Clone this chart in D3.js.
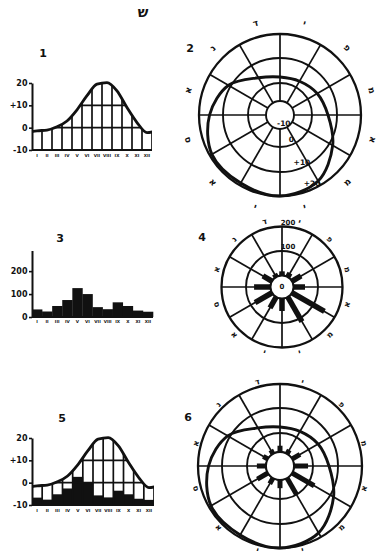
<!DOCTYPE html>
<html>
<head>
<meta charset="utf-8">
<script src="https://cdn.jsdelivr.net/npm/d3@7"></script>
<style>
  body { margin: 0; background: #fff; }
  svg text { font-family: "DejaVu Sans", sans-serif; font-weight: bold; fill: #111; }
</style>
</head>
<body>
<svg id="fig" width="378" height="555"></svg>
<script>
// monthly data
const monthNumerals = ["I", "II", "III", "IV", "V", "VI", "VII", "VIII", "IX", "X", "XI", "XII"];
const monthInitials = ["י", "פ", "מ", "א", "מ", "י", "י", "א", "ס", "א", "נ", "ד"];
const tempMonthly = [-1.4, -1.1, 0.4, 3, 8, 14.3, 19.5, 20.2, 16.5, 9, 2.3, -2.2];
const precipMonthly = [33, 24, 48, 74, 126, 100, 43, 34, 64, 48, 28, 23];
const tempPolar = [2.4, 2.8, 4.4, 6.4, 11.6, 18, 20, 19, 19, 15.6, 11, 4.4];
const precipPolar = [17, 18, 43, 47, 153, 116, 51, 51, 80, 67, 43, 14];

const tempTicks = [-10, 0, 10, 20];
const tempTickLabels = ["-10", "0", "+10", "20"];
const precipTicks = [0, 100, 200];
const precipTickLabels = ["0", "100", "200"];
const polarTempRings = [-10, 0, 10, 20];
const polarTempLabels = ["-10", "0", "+10", "+20"];
const polarPrecipRings = [0, 100, 200];
const polarPrecipLabels = ["0", "100", "200"];
const panelNumbers = ["1", "2", "3", "4", "5", "6"];
const figureLetter = "ש";

const ink = "#111";
const svg = d3.select("#fig");
const defs = svg.append("defs");

svg.append("text").attr("x", 143).attr("y", 17).attr("text-anchor", "middle")
  .attr("font-size", 14).text(figureLetter);

function monthLabels(g, x, yPos) {
  g.selectAll(".ml").data(monthNumerals).enter().append("text")
    .attr("x", (d, i) => x(i + 0.5)).attr("y", yPos)
    .attr("text-anchor", "middle").attr("font-size", 4.2).text(d => d);
}

function styleAxis(ax) {
  ax.select(".domain").attr("stroke", ink).attr("stroke-width", 2);
  ax.selectAll(".tick line").attr("stroke", ink).attr("stroke-width", 1.6);
  ax.selectAll(".tick text").attr("font-size", 8);
}

// linear temperature chart (panels 1 and 5)
function tempPanel(id, x, y, withPrecip) {
  const g = svg.append("g");
  const pts = [{ m: -1, t: tempMonthly[11] }]
    .concat(tempMonthly.map((t, i) => ({ m: i, t })), [{ m: 12, t: tempMonthly[0] }]);
  const area = d3.area().x(d => x(d.m + 0.5)).y0(y(-10)).y1(d => y(d.t)).curve(d3.curveMonotoneX);
  const line = area.lineY1();

  defs.append("clipPath").attr("id", id + "-box").append("rect")
    .attr("x", x(0)).attr("y", y(20) - 15).attr("width", x(12) - x(0)).attr("height", y(-10) - y(20) + 16);
  defs.append("clipPath").attr("id", id + "-area").append("path").attr("d", area(pts));

  const box = g.append("g").attr("clip-path", `url(#${id}-box)`);
  const inner = box.append("g").attr("clip-path", `url(#${id}-area)`);
  inner.append("path").attr("d", area(pts)).attr("fill", "#fff");

  if (withPrecip) {
    inner.selectAll(".pb").data(precipMonthly).enter().append("rect")
      .attr("x", (d, i) => x(i)).attr("width", x(1) - x(0) + 0.3)
      .attr("y", d => y(-10 + d / 10)).attr("height", d => y(-10) - y(-10 + d / 10))
      .attr("fill", ink);
  }
  inner.selectAll(".vl").data(d3.range(13)).enter().append("line")
    .attr("x1", d => x(d)).attr("x2", d => x(d)).attr("y1", y(-10)).attr("y2", y(21))
    .attr("stroke", ink).attr("stroke-width", 1.7);
  inner.selectAll(".hl").data([0, 10]).enter().append("line")
    .attr("x1", x(0)).attr("x2", x(12)).attr("y1", d => y(d)).attr("y2", d => y(d))
    .attr("stroke", ink).attr("stroke-width", 1.7);
  box.append("path").attr("d", line(pts)).attr("fill", "none")
    .attr("stroke", ink).attr("stroke-width", 2.8);

  g.append("line").attr("x1", x(0)).attr("x2", x(12)).attr("y1", y(-10)).attr("y2", y(-10))
    .attr("stroke", ink).attr("stroke-width", 2.2);
  const ax = g.append("g").attr("transform", `translate(${x(0)},0)`)
    .call(d3.axisLeft(y).tickValues(tempTicks).tickFormat((d, i) => tempTickLabels[i])
      .tickSize(3).tickSizeOuter(0).tickPadding(1.5));
  styleAxis(ax);
  monthLabels(g, x, y(-10) + 7);
}

// precipitation histogram (panel 3)
function precipPanel(x, y) {
  const g = svg.append("g");
  g.selectAll(".pb").data(precipMonthly).enter().append("rect")
    .attr("x", (d, i) => x(i)).attr("width", x(1) - x(0) + 0.3)
    .attr("y", d => y(d)).attr("height", d => y(0) - y(d)).attr("fill", ink);
  g.append("line").attr("x1", x(0)).attr("x2", x(12)).attr("y1", y(0)).attr("y2", y(0))
    .attr("stroke", ink).attr("stroke-width", 2.2);
  const ax = g.append("g").attr("transform", `translate(${x(0)},0)`)
    .call(d3.axisLeft(y).tickValues(precipTicks).tickFormat((d, i) => precipTickLabels[i])
      .tickSize(3).tickSizeOuter(0).tickPadding(1.5));
  styleAxis(ax);
  monthLabels(g, x, y(0) + 6);
}

// polar grid with spokes, rings and month letters
function polarGrid(cx, cy, r, rings, labelOffset, labelSize) {
  const g = svg.append("g").attr("transform", `translate(${cx},${cy})`);
  const rIn = r(rings[0]), rOut = r(rings[rings.length - 1]);
  g.selectAll(".sp").data(d3.range(12)).enter().append("line")
    .attr("x1", d => rIn * Math.sin(d * Math.PI / 6)).attr("y1", d => -rIn * Math.cos(d * Math.PI / 6))
    .attr("x2", d => rOut * Math.sin(d * Math.PI / 6)).attr("y2", d => -rOut * Math.cos(d * Math.PI / 6))
    .attr("stroke", ink).attr("stroke-width", 1.7);
  g.selectAll(".rg").data(rings).enter().append("circle")
    .attr("r", d => r(d)).attr("fill", (d, i) => i === 0 ? "#fff" : "none")
    .attr("stroke", ink).attr("stroke-width", (d, i) => i === rings.length - 1 ? 2.3 : 1.9);
  g.selectAll(".mi").data(monthInitials).enter().append("text")
    .attr("font-size", labelSize).attr("text-anchor", "middle").attr("dominant-baseline", "central")
    .attr("transform", (d, i) => {
      const a = i * 30 + 15, rad = a * Math.PI / 180, R = rOut + labelOffset;
      const rot = (a > 90 && a < 270) ? a - 180 : a;
      return `translate(${R * Math.sin(rad)},${-R * Math.cos(rad)}) rotate(${rot})`;
    })
    .text(d => d);
  return g;
}

function polarBars(g, r, values, base, widthPx) {
  g.selectAll(".bar").data(values).enter().append("line")
    .attr("x1", (d, i) => r(base) * Math.sin(i * Math.PI / 6))
    .attr("y1", (d, i) => -r(base) * Math.cos(i * Math.PI / 6))
    .attr("x2", (d, i) => r(d) * Math.sin(i * Math.PI / 6))
    .attr("y2", (d, i) => -r(d) * Math.cos(i * Math.PI / 6))
    .attr("stroke", ink).attr("stroke-width", widthPx);
}

function polarCurve(g, r) {
  const lr = d3.lineRadial().angle((d, i) => i * Math.PI / 6).radius(d => r(d))
    .curve(d3.curveCatmullRomClosed);
  g.append("path").attr("d", lr(tempPolar)).attr("fill", "none")
    .attr("stroke", ink).attr("stroke-width", 2.9);
}

// panel 1
tempPanel("p1", d3.scaleLinear().domain([0, 12]).range([32, 152]),
  d3.scaleLinear().domain([-10, 20]).range([150, 83]), false);
// panel 3
precipPanel(d3.scaleLinear().domain([0, 12]).range([32, 153]),
  d3.scaleLinear().domain([0, 290]).range([317, 250.5]));
// panel 5
tempPanel("p5", d3.scaleLinear().domain([0, 12]).range([32, 154]),
  d3.scaleLinear().domain([-10, 20]).range([505, 438]), true);

// panel 2
const r2 = d3.scaleLinear().domain(polarTempRings).range([14, 32, 57, 81]);
const g2 = polarGrid(280, 115, r2, polarTempRings, 14, 9);
polarCurve(g2, r2);
g2.selectAll(".rl").data(polarTempRings).enter().append("text")
  .attr("font-size", 7.5).attr("text-anchor", "middle").attr("dominant-baseline", "central")
  .attr("x", d => (r2(d) - 5) * Math.sin(155 * Math.PI / 180))
  .attr("y", d => -(r2(d) - 5) * Math.cos(155 * Math.PI / 180))
  .text((d, i) => polarTempLabels[i]);

// panel 4
const r4 = d3.scaleLinear().domain([0, 200]).range([11.5, 60.5]);
const g4 = polarGrid(282, 287, r4, polarPrecipRings, 7, 8);
polarBars(g4, r4, precipPolar, 0, 5.5);
g4.append("circle").attr("r", r4(0)).attr("fill", "#fff").attr("stroke", ink).attr("stroke-width", 1.9);
g4.selectAll(".rl").data(polarPrecipRings).enter().append("text")
  .attr("font-size", 7).attr("text-anchor", "middle").attr("dominant-baseline", "central")
  .attr("x", d => d === 0 ? 0 : 6).attr("y", d => d === 0 ? 0 : -r4(d) - 4)
  .text((d, i) => polarPrecipLabels[i]);

// panel 6
const r6 = d3.scaleLinear().domain(polarTempRings).range([14, 33, 58, 82]);
const g6 = polarGrid(280, 466, r6, polarTempRings, 5, 8);
polarBars(g6, r6, precipMonthly.map(p => -10 + p / 10), -10, 5);
g6.append("circle").attr("r", r6(-10)).attr("fill", "#fff").attr("stroke", ink).attr("stroke-width", 1.9);
polarCurve(g6, r6);

// panel numbers
const numberPos = [[43, 57], [190, 52], [60, 242], [202, 241], [62, 422], [188, 421]];
svg.selectAll(".pn").data(panelNumbers).enter().append("text")
  .attr("x", (d, i) => numberPos[i][0]).attr("y", (d, i) => numberPos[i][1])
  .attr("text-anchor", "middle").attr("font-size", 11).text(d => d);
</script>
</body>
</html>
